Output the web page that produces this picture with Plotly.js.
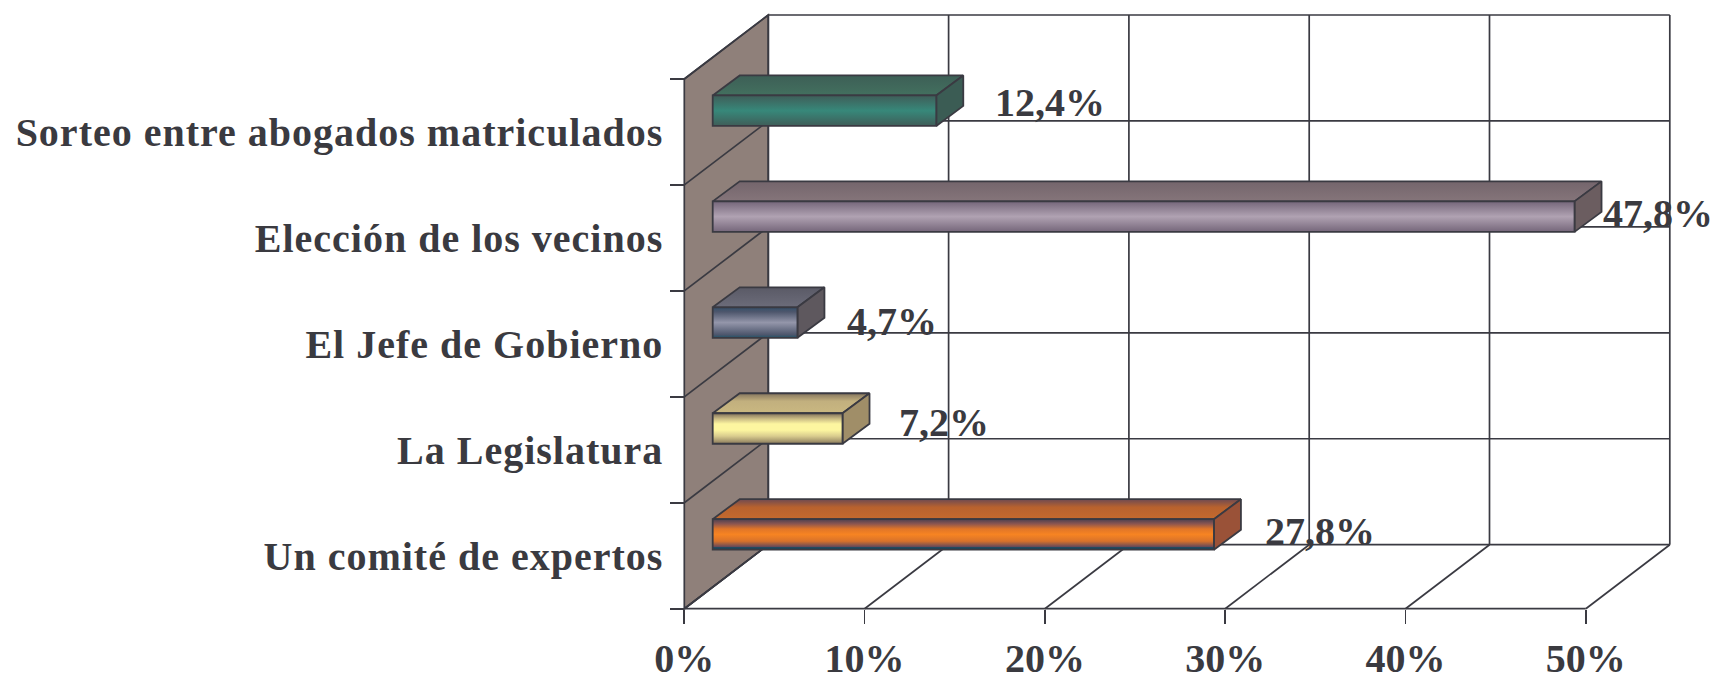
<!DOCTYPE html>
<html><head><meta charset="utf-8">
<script src="https://cdn.plot.ly/plotly-3.0.1.min.js"></script>
<style>html,body{margin:0;padding:0;background:#fff}
.ytick text{letter-spacing:1px}
</style></head>
<body><div id="chart" style="width:1713px;height:676px"></div>
<script>
const categories = ["Un comité de expertos","La Legislatura","El Jefe de Gobierno","Elección de los vecinos","Sorteo entre abogados matriculados"];
const values = [27.8,7.2,4.7,47.8,12.4];
const xTicks = [0,10,20,30,40,50];
const valueLabels = ["27,8%","7,2%","4,7%","47,8%","12,4%"];
const labelGapPx = [50,55,49,27,58];
const labelLiftPx = [3,6,1,3,8];
const frontColors = [
  [[0,"#1c4258"],[0.07,"#1f4a60"],[0.1,"#6a4a58"],[0.28,"#d9722a"],[0.5,"#f78422"],[0.68,"#e07528"],[0.85,"#8a5550"],[1,"#4a4050"]],
  [[0,"#8a7a5c"],[0.25,"#d9cc8e"],[0.45,"#fdf6a0"],[0.65,"#fdf6a0"],[0.82,"#c9ba84"],[1,"#7e6e58"]],
  [[0,"#1f5468"],[0.1,"#4d566c"],[0.5,"#9496aa"],[0.85,"#4d566c"],[1,"#34506a"]],
  [[0,"#75667a"],[0.5,"#b0a2b2"],[1,"#75667a"]],
  [[0,"#3f5d58"],[0.5,"#37887a"],[1,"#3f5d58"]]
];
const topColors = [
  [[0,"#c46a2e"],[0.6,"#b8622e"],[1,"#6e4a52"]],
  [[0,"#c9b781"],[0.6,"#c2b07e"],[1,"#85755e"]],
  [[0,"#6c6c7a"],[1,"#5a5a66"]],
  [[0,"#85757a"],[1,"#74656c"]],
  [[0,"#43705f"],[1,"#3d5f56"]]
];
const sideColors = ["#9a5238","#a08e68","#5e585e","#6b5d60","#3b5c54"];

const ink="#3a3a42", wall="#8f807a";
const pxX=18.03, pxY=105.94;            // pixels per percent / per category
const depthX=84/pxX, depthY=64/pxY;     // chart depth
const barX=28.4/pxX, barLift=21.3/pxY;  // bar front offset from the front plane
const barDX=27/pxX, barDY=20/pxY, barH=30.5/pxY;
const x0=684.3, yBottom=608.7;
const W=1713, H=676, mL=666, mR=30, mT=5, mB=57;
const xr=[(mL-x0)/pxX,(W-mR-x0)/pxX];
const yr=[(yBottom-(H-mB))/pxY-0.5,(yBottom-mT)/pxY-0.5];

const line=(x1,y1,x2,y2)=>({type:'line',xref:'x',yref:'y',x0:x1,y0:y1,x1:x2,y1:y2,layer:'below',line:{color:ink,width:1.7}});
const n=categories.length, maxX=xTicks[xTicks.length-1], yLow=-0.5, yHigh=n-0.5;
const shapes=[{type:'path',xref:'x',yref:'y',layer:'below',fillcolor:wall,
  line:{color:ink,width:1.7},
  path:`M ${0} ${yLow} L ${depthX} ${yLow+depthY} L ${depthX} ${yHigh+depthY} L 0 ${yHigh} Z`}];
for(let i=0;i<=n;i++){
  const y=yLow+i;
  shapes.push(line(depthX,y+depthY,maxX+depthX,y+depthY));
  shapes.push(line(0,y,depthX,y+depthY));
}
xTicks.forEach(t=>{
  shapes.push(line(t+depthX,yLow+depthY,t+depthX,yHigh+depthY));
  shapes.push(line(t,yLow,t+depthX,yLow+depthY));
});
shapes.push(line(0,yLow,maxX,yLow));

const traces=[];
const poly=(xs,ys,extra)=>Object.assign({type:'scatter',mode:'lines',x:xs,y:ys,fill:'toself',hoverinfo:'skip',showlegend:false,
  line:{color:ink,width:1.8},zorder:1},extra);
const centers=categories.map((c,i)=>i+barLift);
values.forEach((v,i)=>{
  const b=centers[i]-barH/2, t=centers[i]+barH/2, l=barX, r=barX+v;
  traces.push(poly([l,r,r+barDX,l+barDX,l],[t,t,t+barDY,t+barDY,t],{fillgradient:{type:'vertical',colorscale:topColors[i]}}));
  traces.push(poly([r,r+barDX,r+barDX,r,r],[b,b+barDY,t+barDY,t,b],{fillcolor:sideColors[i]}));
  traces.push(poly([l,r,r,l,l],[b,b,t,t,b],{fillgradient:{type:'vertical',colorscale:frontColors[i]},line:{width:0,color:'rgba(0,0,0,0)'}}));
});
traces.push({type:'bar',orientation:'h',y:centers,x:values,base:values.map(()=>barX),width:barH,
  text:valueLabels,textposition:'none',hoverinfo:'text',showlegend:false,zorder:2,
  marker:{color:'rgba(0,0,0,0)',line:{color:ink,width:1.8}}});

const font={family:'"Liberation Serif",serif',size:40,color:'#3a3a40',weight:700};
const annotations=values.map((v,i)=>({xref:'x',yref:'y',x:barX+v,y:centers[i],text:'<b>'+valueLabels[i]+'</b>',
  showarrow:false,xanchor:'left',yanchor:'middle',xshift:labelGapPx[i],yshift:labelLiftPx[i],
  xpad:0,borderpad:0,font:{family:font.family,size:40,color:font.color}}));

const layout={width:W,height:H,paper_bgcolor:'#fff',plot_bgcolor:'rgba(0,0,0,0)',showlegend:false,
  margin:{l:mL,r:mR,t:mT,b:mB,pad:0},
  xaxis:{range:xr,anchor:'free',position:(yLow-yr[0])/(yr[1]-yr[0]),tickmode:'array',tickvals:xTicks,ticktext:xTicks.map(t=>t+'%'),
    ticks:'outside',ticklen:14,tickwidth:1.7,tickcolor:ink,showgrid:false,zeroline:false,showline:false,ticklabelstandoff:0,tickfont:font},
  yaxis:{range:yr,anchor:'free',position:(0-xr[0])/(xr[1]-xr[0]),tickmode:'array',tickvals:categories.map((c,i)=>i),ticktext:categories,
    ticks:'outside',ticklen:13,tickwidth:0,tickcolor:'rgba(0,0,0,0)',showgrid:false,zeroline:false,showline:false,tickfont:font,
    minor:{tickmode:'array',tickvals:categories.map((c,i)=>i-0.5).concat([yHigh]),ticks:'outside',ticklen:14,tickwidth:1.7,tickcolor:ink,showgrid:false}},
  shapes,annotations,barmode:'overlay'};
Plotly.newPlot('chart',traces,layout,{displayModeBar:false,staticPlot:true});
</script></body></html>
